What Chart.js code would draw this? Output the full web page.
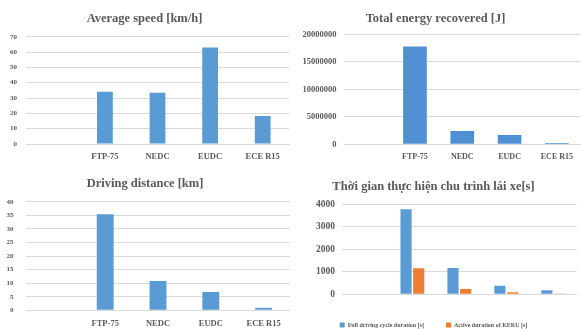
<!DOCTYPE html>
<html>
<head>
<meta charset="utf-8">
<script src="https://cdn.jsdelivr.net/npm/chart.js@4.4.1/dist/chart.umd.min.js"></script>
<style>
    body { margin: 0; background: #ffffff; }
    #wrap { position: relative; width: 581px; height: 331px; overflow: hidden; }
    canvas { position: absolute; }
</style>
</head>
<body>
<div id="wrap">
    <canvas id="speed_chart" width="290" height="165" style="left:0px; top:0px;"></canvas>
    <canvas id="energy_chart" width="291" height="165" style="left:290px; top:0px;"></canvas>
    <canvas id="distance_chart" width="290" height="166" style="left:0px; top:165px;"></canvas>
    <canvas id="duration_chart" width="291" height="166" style="left:290px; top:165px;"></canvas>
</div>
<script>
// categories (first slot is left empty in the original sheet)
const cycles = ["", "FTP-75", "NEDC", "EUDC", "ECE R15"];

// values
const avgSpeed = [null, 34.1, 33.4, 62.9, 18.2];           // km/h
const energyRecovered = [null, 17800000, 2420000, 1700000, 220000]; // J
const drivingDistance = [null, 35.4, 10.8, 6.7, 0.9];      // km
const fullDuration = [null, 3780, 1170, 385, 180];         // s
const kersDuration = [null, 1155, 235, 90, 15];            // s

const seriesNames = ["Full driving cycle duration [s]", "Active duration of KERU [s]"];

const titles = [
    "Average speed [km/h]",
    "Total energy recovered [J]",
    "Driving distance [km]",
    "Thời gian thực hiện chu trình lái xe[s]"
];

const BLUE = "#5B9BD5";
const ORANGE = "#ED7D31";
const GRID = "#D9D9D9";
const TEXT = "#595959";

Chart.defaults.font.family = "'Liberation Serif', 'Times New Roman', serif";
Chart.defaults.font.weight = "bold";
Chart.defaults.color = TEXT;
Chart.defaults.animation = false;

// build one bar chart; opts holds the layout numbers for that panel
function makeChart(canvasId, title, datasets, opts) {
    const ctx = document.getElementById(canvasId).getContext("2d");
    return new Chart(ctx, {
        type: "bar",
        data: { labels: cycles, datasets: datasets },
        options: {
            responsive: false,
            layout: { padding: { left: 0, right: opts.padRight, top: 0, bottom: 0 } },
            plugins: {
                title: {
                    display: true,
                    text: title,
                    color: TEXT,
                    font: { size: 12.5, weight: "bold" },
                    padding: { top: opts.titleTop, bottom: opts.titleBottom }
                },
                legend: opts.legend || { display: false },
                tooltip: { enabled: false }
            },
            scales: {
                x: {
                    grid: { display: false, drawTicks: false },
                    border: { color: GRID },
                    ticks: { font: { size: opts.xFont }, padding: opts.xPad, maxRotation: 0, autoSkip: false },
                    afterFit: function (scale) { scale.height = opts.xHeight; }
                },
                y: {
                    min: 0,
                    max: opts.yMax,
                    grid: { color: GRID, drawTicks: false },
                    border: { display: false },
                    ticks: {
                        stepSize: opts.yStep,
                        font: { size: opts.yFont },
                        padding: opts.yPad,
                        callback: function (value) { return String(value); } // no thousands separators
                    },
                    afterFit: function (scale) { scale.width = opts.yWidth; }
                }
            }
        }
    });
}

makeChart("speed_chart", titles[0], [{
    data: avgSpeed, backgroundColor: BLUE, categoryPercentage: 1, barPercentage: 0.3
}], {
    padRight: 1, titleTop: 10.8, titleBottom: 10.9,
    xFont: 8.5, xPad: 8, xHeight: 21,
    yMax: 70, yStep: 10, yFont: 7, yPad: 9, yWidth: 26
});

makeChart("energy_chart", titles[1], [{
    data: energyRecovered, backgroundColor: "#4F90D2", categoryPercentage: 1, barPercentage: 0.5
}], {
    padRight: 0, titleTop: 10.8, titleBottom: 8.5,
    xFont: 8, xPad: 8, xHeight: 20.7,
    yMax: 20000000, yStep: 5000000, yFont: 8.5, yPad: 7.5, yWidth: 54
});

makeChart("distance_chart", titles[2], [{
    data: drivingDistance, backgroundColor: BLUE, categoryPercentage: 1, barPercentage: 0.32
}], {
    padRight: 0, titleTop: 10.8, titleBottom: 10.9,
    xFont: 8.5, xPad: 8, xHeight: 20.7,
    yMax: 40, yStep: 5, yFont: 7, yPad: 12.5, yWidth: 26
});

makeChart("duration_chart", titles[3], [
    { label: seriesNames[0], data: fullDuration, backgroundColor: BLUE, categoryPercentage: 0.54, barPercentage: 0.88 },
    { label: seriesNames[1], data: kersDuration, backgroundColor: ORANGE, categoryPercentage: 0.54, barPercentage: 0.88 }
], {
    padRight: 4, titleTop: 14.2, titleBottom: 10.1,
    xFont: 9.5, xPad: 8.3, xHeight: 5.7,
    yMax: 4000, yStep: 1000, yFont: 9.5, yPad: 7, yWidth: 52,
    legend: {
        display: true,
        position: "bottom",
        maxHeight: 31,
        labels: { font: { size: 6, weight: "bold" }, color: TEXT, boxWidth: 5, boxHeight: 5, padding: 22 }
    }
});
</script>
</body>
</html>
